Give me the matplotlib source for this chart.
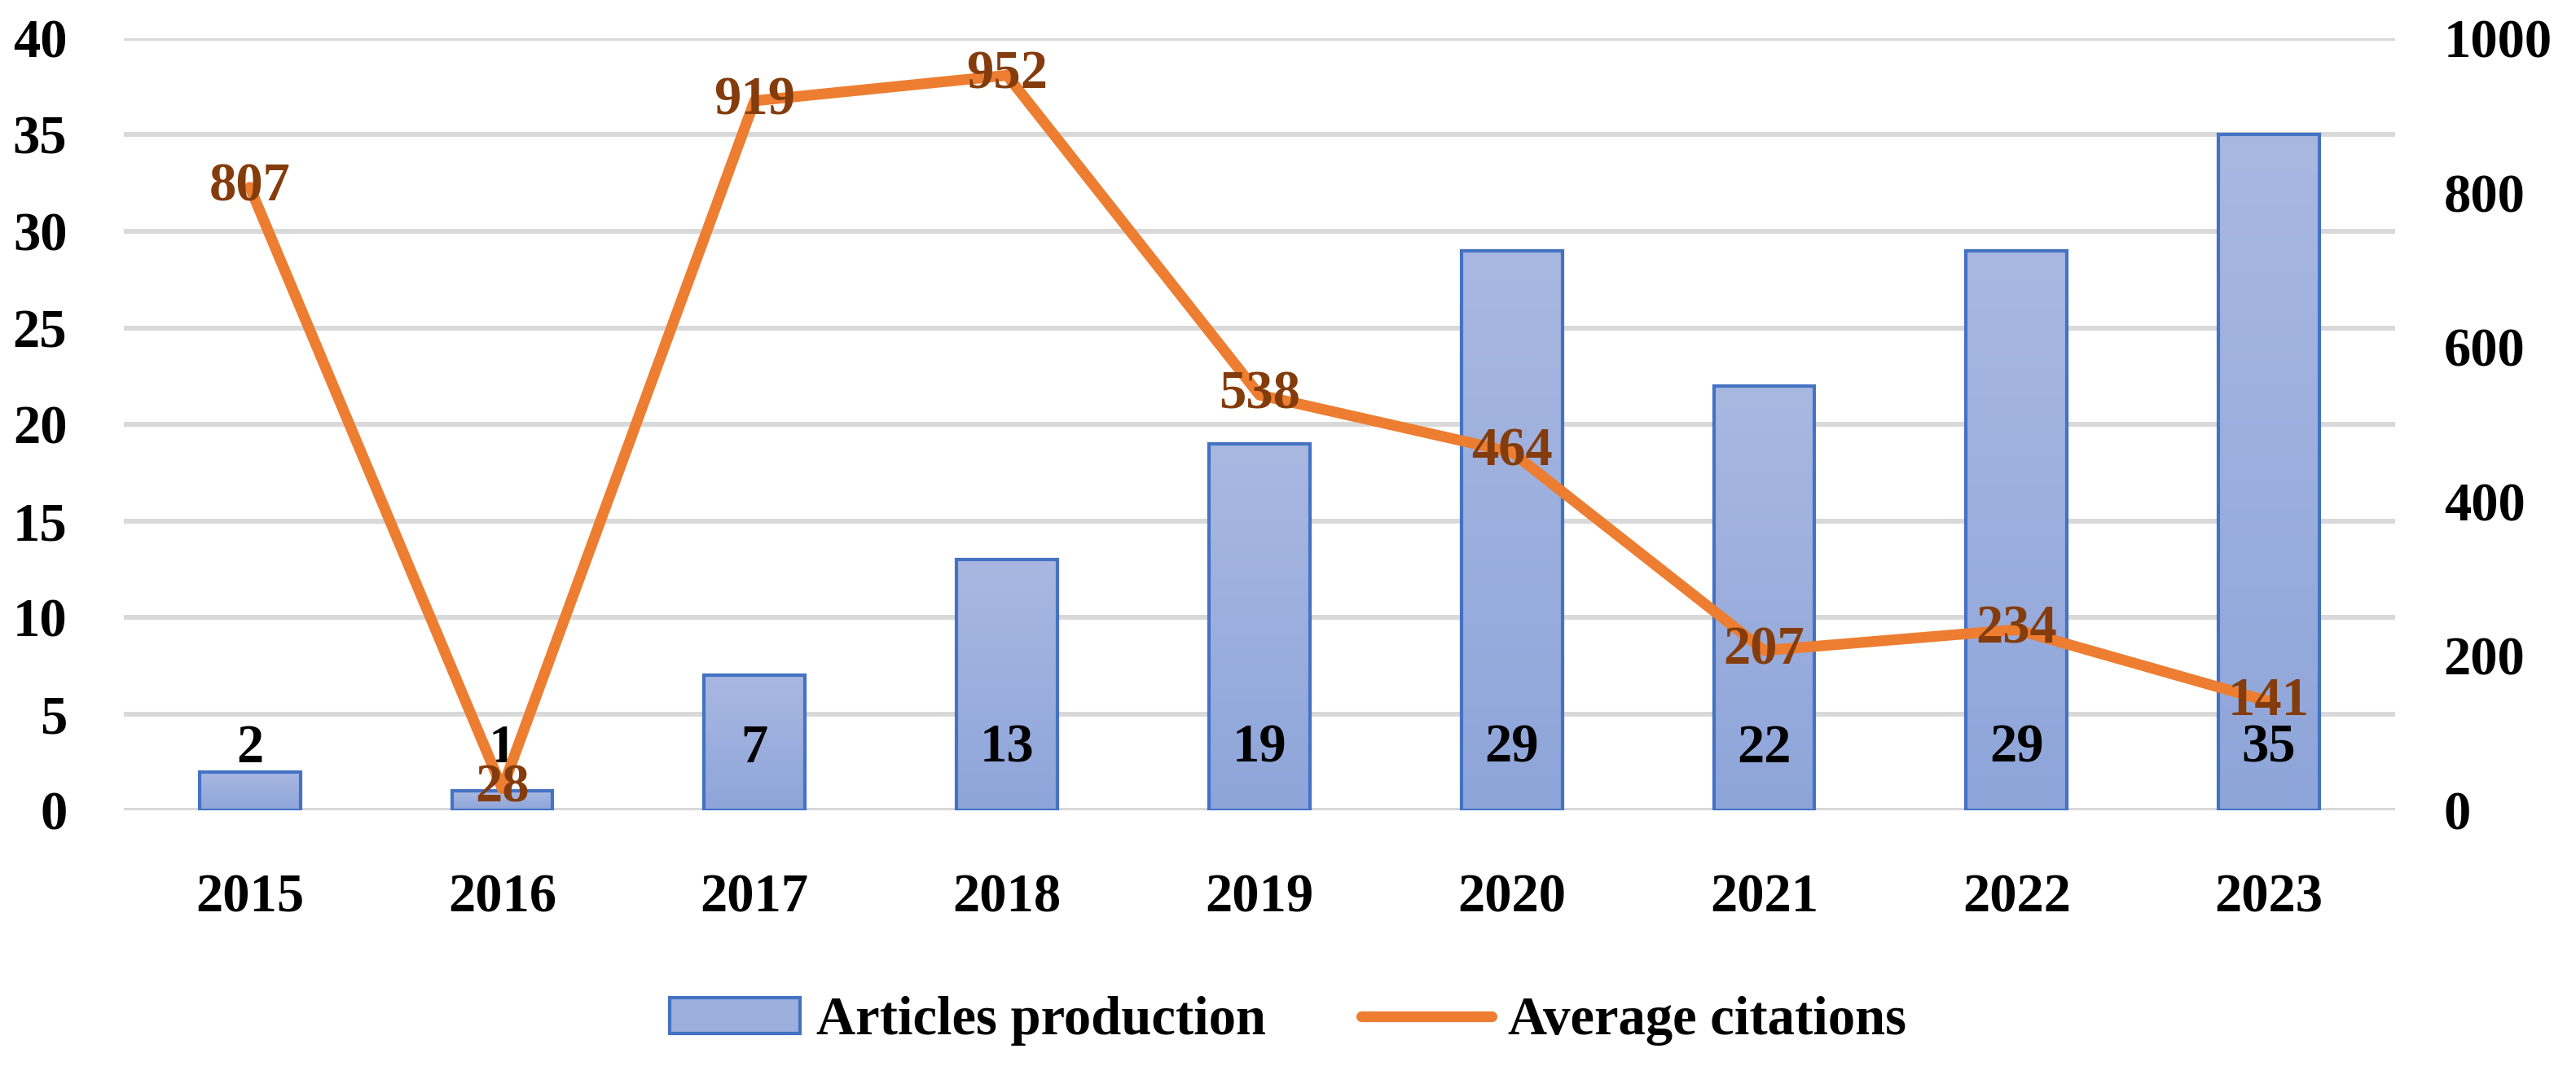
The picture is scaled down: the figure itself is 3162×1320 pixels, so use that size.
import matplotlib
matplotlib.use("Agg")
import matplotlib.pyplot as plt
import numpy as np
from matplotlib.colors import LinearSegmentedColormap
from matplotlib.patches import Patch
from matplotlib.lines import Line2D

plt.rcParams.update({
    "font.family": ["Liberation Serif", "DejaVu Serif"],
    "font.weight": "bold",
    "font.size": 48,
})

anos = ["2015", "2016", "2017", "2018", "2019", "2020", "2021", "2022", "2023"]
artigos = [2, 1, 7, 13, 19, 29, 22, 29, 35]
citacoes = [807, 28, 919, 952, 538, 464, 207, 234, 141]

AZUL_BORDA = "#4472C4"
LARANJA = "#ED7D31"
MARROM = "#843C0C"
GRADE = "#D9D9D9"

fig = plt.figure(figsize=(31.62, 13.2), dpi=100)
ax = fig.add_axes([0.048, 0.2462, 0.8818, 0.7182])
ax2 = ax.twinx()

x = np.arange(len(anos))
barras = ax.bar(x, artigos, width=0.4, facecolor="none", edgecolor=AZUL_BORDA,
                linewidth=3, zorder=3)

# preenchimento em degradê (claro em cima, mais escuro embaixo)
cmap = LinearSegmentedColormap.from_list("grad", ["#8EA5DA", "#A9B8E1"])
grad = np.linspace(0, 1, 256).reshape(-1, 1)
for b in barras:
    x0, y0, w, h = b.get_x(), b.get_y(), b.get_width(), b.get_height()
    im = ax.imshow(grad, extent=[x0, x0 + w, y0, y0 + h], origin="lower",
                   cmap=cmap, aspect="auto", zorder=2)
    im.set_clip_path(b)

for xi, v in zip(x, artigos):
    ax.text(xi, 3.2, str(v), ha="center", va="center", color="black", zorder=6)

ax.set_xlim(-0.5, len(anos) - 0.5)
ax.set_ylim(0, 40)
ax.set_yticks(range(0, 41, 5))
ax.set_xticks(x)
ax.set_xticklabels(anos)
ax.yaxis.grid(True, color=GRADE, linewidth=4.3, zorder=0)
ax.set_axisbelow(True)
ax.tick_params(axis="y", length=0, pad=50)
ax.tick_params(axis="x", length=0, pad=56)

ax2.plot(x, citacoes, color=LARANJA, linewidth=9.5, solid_capstyle="round",
         solid_joinstyle="round", zorder=4)
for xi, v in zip(x, citacoes):
    ax2.text(xi, v, str(v), ha="center", va="center", color=MARROM, zorder=6)
ax2.set_ylim(0, 1000)
ax2.set_yticks(range(0, 1001, 200))
ax2.tick_params(axis="y", length=0, pad=43)

for a in (ax, ax2):
    for s in a.spines.values():
        s.set_visible(False)

ax.set_zorder(ax2.get_zorder() - 1)
ax.patch.set_visible(True)
ax2.patch.set_visible(False)

handles = [
    Patch(facecolor="#9DAFDD", edgecolor=AZUL_BORDA, linewidth=3, label="Articles production"),
    Line2D([0], [0], color=LARANJA, linewidth=9.5, solid_capstyle="round", label="Average citations"),
]
fig.legend(handles=handles, loc="center", bbox_to_anchor=(0.5, 0.05), ncol=2,
           frameon=False, handlelength=2.4, handleheight=0.65, handletextpad=0.3,
           columnspacing=1.75)

fig.savefig("out.png", dpi=100)
